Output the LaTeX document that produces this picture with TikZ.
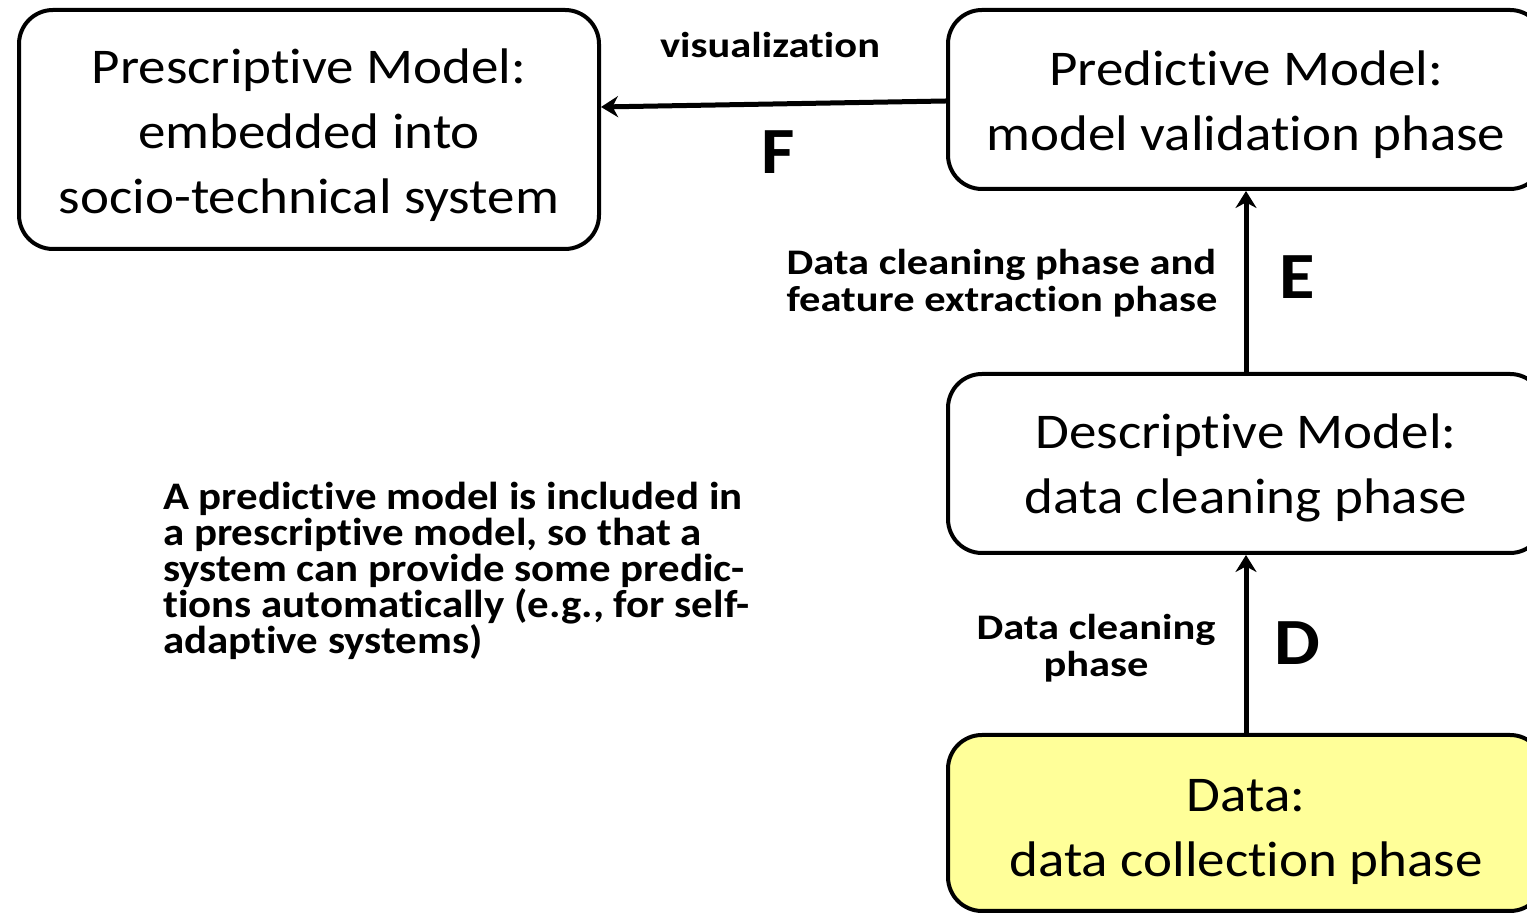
\documentclass[tikz,border=0pt]{standalone}
\usepackage{fontspec}
\setmainfont{Carlito}[FakeStretch=1.1, Ligatures=CommonOff]
\newfontfamily\labelfont{Carlito}[FakeStretch=1.18, Ligatures=CommonOff]
\usetikzlibrary{arrows.meta}
\definecolor{datayellow}{RGB}{255,255,153}
\newcommand{\tightskip}{\lineskiplimit=-100pt\relax}
\newcommand{\topstrut}[1][46pt]{\rule{0pt}{#1}}

\begin{document}
\begin{tikzpicture}[x=1pt, y=1pt,
    phase/.style={rectangle, draw, line width=4pt, rounded corners=34pt, minimum width=596pt, minimum height=179pt, align=center, inner sep=0pt, font=\fontsize{50}{65}\selectfont},
    flow/.style={-{Stealth[length=17pt,width=21pt]}, line width=5pt},
    lbl/.style={font={\labelfont\fontsize{36}{37}\selectfont\bfseries\tightskip}, align=center, inner sep=0pt},
    letter/.style={font=\fontsize{66}{66}\selectfont\bfseries, inner sep=0pt}]
    \useasboundingbox (0,0) rectangle (1527,915);
    \clip (0,0) rectangle (1527,915);

    % Model boxes
    \node[phase, minimum width=580pt, minimum height=239pt] (PRESC) at (309,785.5) {\topstrut Prescriptive Model:\\embedded into\\socio-technical system};
    \node[phase] (PRED) at (1246,815.5) {\topstrut Predictive Model:\\model validation phase};
    \node[phase] (DESC) at (1246,451.5) {\topstrut[44pt]Descriptive Model:\\data cleaning phase};
    \node[phase, fill=datayellow, minimum height=176pt] (DATA) at (1246,92) {\topstrut[51pt]Data:\\data collection phase};

    % Transitions
    \draw[flow] (DATA) -- (DESC);
    \draw[flow] (DESC) -- (PRED);
    \draw[flow] ([yshift=-1.5pt]PRED.west) -- ([yshift=22.5pt]PRESC.east);

    % Transition labels
    \node[lbl] (VIS) at (770,870) {visualization};
    \node[letter] (F) at (778,763) {F};
    \node[lbl, align=left] (EXTRACT) at (1002,632) {Data cleaning phase and\\feature extraction phase};
    \node[letter] (E) at (1297,638) {E};
    \node[lbl] (CLEAN) at (1096,267) {Data cleaning\\phase};
    \node[letter] (D) at (1297,272) {D};

    % Note
    \node[anchor=west, align=left, inner sep=0pt, font={\fontsize{39}{36}\selectfont\bfseries\tightskip}] (NOTE) at (163,344) {A predictive model is included in\\a prescriptive model, so that a\\system can provide some predic-\\tions automatically (e.g., for self-\\adaptive systems)};
\end{tikzpicture}
\end{document}
